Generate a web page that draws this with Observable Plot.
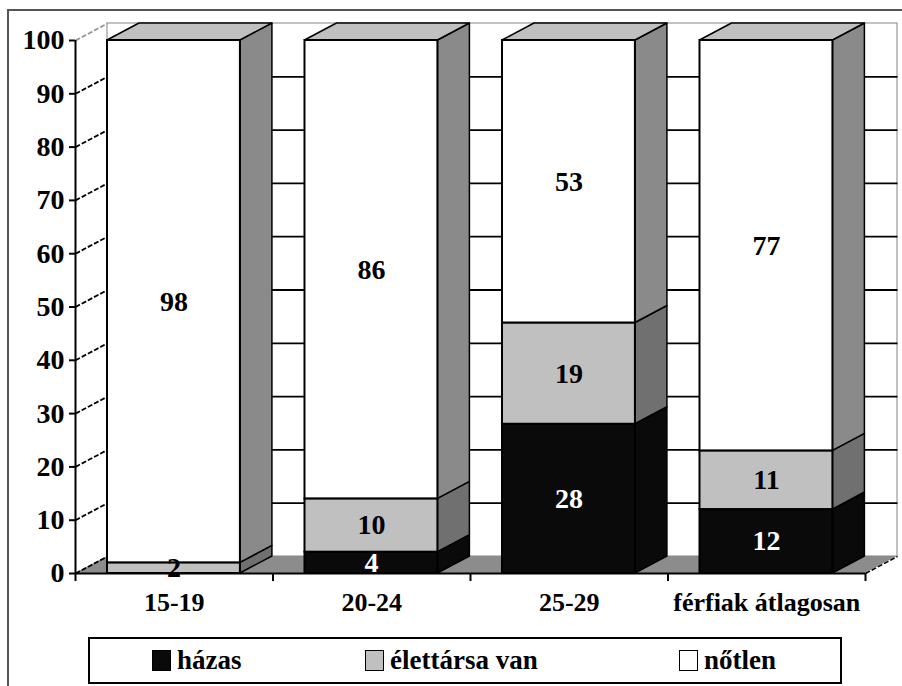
<!DOCTYPE html>
<html>
<head>
<meta charset="utf-8">
<script src="https://cdn.jsdelivr.net/npm/d3@7"></script>
<script src="https://cdn.jsdelivr.net/npm/@observablehq/plot@0.6"></script>
<style>
  html, body { margin: 0; padding: 0; background: #fff; overflow: hidden; width: 902px; height: 686px; }
  #wrap { position: relative; width: 902px; height: 686px; font-family: "Liberation Serif", "Times New Roman", serif; font-weight: bold; }
  #chart { position: absolute; left: 0; top: 0; }
  #frame { position: absolute; left: 7px; top: 9px; width: 1000px; height: 1000px; border: 2px solid #555; pointer-events: none; }
  #legend { position: absolute; left: 88px; top: 637px; width: 750px; height: 43px; border: 2px solid #000; background: #fff; }
  .item { position: absolute; top: 6px; display: flex; align-items: center; font-size: 27px; color: #000; line-height: 30px; }
  .sw { width: 19px; height: 21px; border: 1.5px solid #000; margin-right: 6px; box-sizing: border-box; }
</style>
</head>
<body>
<div id="wrap">
  <div id="chart"></div>
  <div id="legend"></div>
  <div id="frame"></div>
</div>
<script>
// ---- data ----
const categories = ["15-19", "20-24", "25-29", "férfiak átlagosan"];
const seriesNames = ["házas", "élettársa van", "nőtlen"];
const hazas = [0, 4, 28, 12];
const elettarsaVan = [2, 10, 19, 11];
const notlen = [98, 86, 53, 77];
const yTicks = [0, 10, 20, 30, 40, 50, 60, 70, 80, 90, 100];

// ---- styles ----
const frontFill = ["#0a0a0a", "#c0c0c0", "#ffffff"];
const sideFill = ["#0a0a0a", "#707070", "#8a8a8a"];
const topFill = ["#303030", "#a8a8a8", "#c0c0c0"];
const labelFill = ["#ffffff", "#000000", "#000000"];
const legendX = [62, 275, 589];
const BAR_L = 0.162, BAR_R = 0.835; // bar position inside each category band
const DX = 0.162, DY = 3.19;         // 3D depth (in scale units)
const FONT = "Liberation Serif";

const values = [hazas, elettarsaVan, notlen];
const n = categories.length;

// stacked segments
const segs = [];
categories.forEach((c, i) => {
  let cum = 0;
  values.forEach((arr, k) => {
    const v = arr[i];
    if (v > 0) segs.push({i, k, lo: cum, hi: cum + v, v, id: i + "-" + k});
    cum += v;
  });
});
const tops = categories.map((c, i) => segs.filter(s => s.i === i).slice(-1)[0]);

// side faces (parallelograms)
const sidePts = segs.flatMap(s => [
  {id: s.id, k: s.k, x: s.i + BAR_R, y1: s.lo, y2: s.hi},
  {id: s.id, k: s.k, x: s.i + BAR_R + DX, y1: s.lo + DY, y2: s.hi + DY}
]);
// top faces
const topPts = tops.flatMap(s => [
  {id: s.id, k: s.k, y: s.hi, x1: s.i + BAR_L, x2: s.i + BAR_R},
  {id: s.id, k: s.k, y: s.hi + DY, x1: s.i + BAR_L + DX, x2: s.i + BAR_R + DX}
]);
// floor
const floorPts = [
  {y: 0, x1: 0, x2: n},
  {y: DY, x1: DX, x2: n + DX}
];
const yMax = yTicks[yTicks.length - 1];

const marks = [
  // back wall
  Plot.rect([0], {x1: DX, x2: n + DX, y1: DY, y2: yMax + DY, fill: "#fff", stroke: "#999", strokeWidth: 1.2}),
  // back wall gridlines
  Plot.link(yTicks.filter(t => t > 0 && t < yMax), {x1: DX, x2: n + DX, y1: t => t + DY, y2: t => t + DY, stroke: "#000", strokeWidth: 1.8}),
  // floor
  Plot.areaX(floorPts, {y: "y", x1: "x1", x2: "x2", fill: "#8c8c8c"}),
  // left wall diagonals
  Plot.link(yTicks, {x1: 0, x2: DX, y1: t => t, y2: t => t + DY, stroke: t => t === yMax ? "#999" : "#000", strokeWidth: 1.8, strokeDasharray: "5,2"}),
  // right floor edge
  Plot.link([0], {x1: n, x2: n + DX, y1: 0, y2: DY, stroke: "#000", strokeWidth: 1.5, strokeDasharray: "5,2"}),
  // side faces
  Plot.areaY(sidePts, {x: "x", y1: "y1", y2: "y2", z: "id", fill: d => sideFill[d.k], stroke: "#000", strokeWidth: 1.5}),
  // top faces
  Plot.areaX(topPts, {y: "y", x1: "x1", x2: "x2", z: "id", fill: d => topFill[d.k], stroke: "#000", strokeWidth: 1.5}),
  // front faces
  Plot.rect(segs, {x1: d => d.i + BAR_L, x2: d => d.i + BAR_R, y1: "lo", y2: "hi", fill: d => frontFill[d.k], stroke: "#000", strokeWidth: 2}),
  // value labels
  Plot.text(segs, {x: d => d.i + (BAR_L + BAR_R) / 2, y: d => (d.lo + d.hi) / 2, text: d => String(d.v), fill: d => labelFill[d.k], fontSize: 28, fontWeight: "bold", fontFamily: FONT}),
  // axes lines
  Plot.ruleX([0], {y1: 0, y2: yMax, stroke: "#000", strokeWidth: 2}),
  Plot.ruleY([0], {x1: 0, x2: n, stroke: "#000", strokeWidth: 2}),
  Plot.axisY({ticks: yTicks, tickSize: 6, tickPadding: 5, fontSize: 28, fontWeight: "bold", fontFamily: FONT, label: null, stroke: "#000", strokeWidth: 2}),
  Plot.axisX({ticks: d3.range(n + 1), tickFormat: () => "", tickSize: 8, label: null, stroke: "#000", strokeWidth: 2}),
  Plot.axisX({ticks: categories.map((c, i) => i + 0.5), tickFormat: d => categories[Math.floor(d)], tickSize: 0, tickPadding: 19, fontSize: 26, fontWeight: "bold", fontFamily: FONT, label: null})
];

const chart = Plot.plot({
  width: 902,
  height: 632,
  marginLeft: 75,
  marginRight: 37,
  marginTop: 40,
  marginBottom: 59,
  x: {type: "linear", domain: [0, n]},
  y: {domain: [0, yMax]},
  color: {type: "identity"},
  style: {fontFamily: FONT, fontWeight: "bold", background: "transparent", overflow: "visible", color: "#000"},
  marks
});
document.getElementById("chart").appendChild(chart);

// legend
const legend = document.getElementById("legend");
seriesNames.forEach((name, k) => {
  const item = document.createElement("div");
  item.className = "item";
  item.style.left = legendX[k] + "px";
  const sw = document.createElement("div");
  sw.className = "sw";
  sw.style.background = frontFill[k];
  const lab = document.createElement("span");
  lab.textContent = name;
  item.appendChild(sw);
  item.appendChild(lab);
  legend.appendChild(item);
});
</script>
</body>
</html>
